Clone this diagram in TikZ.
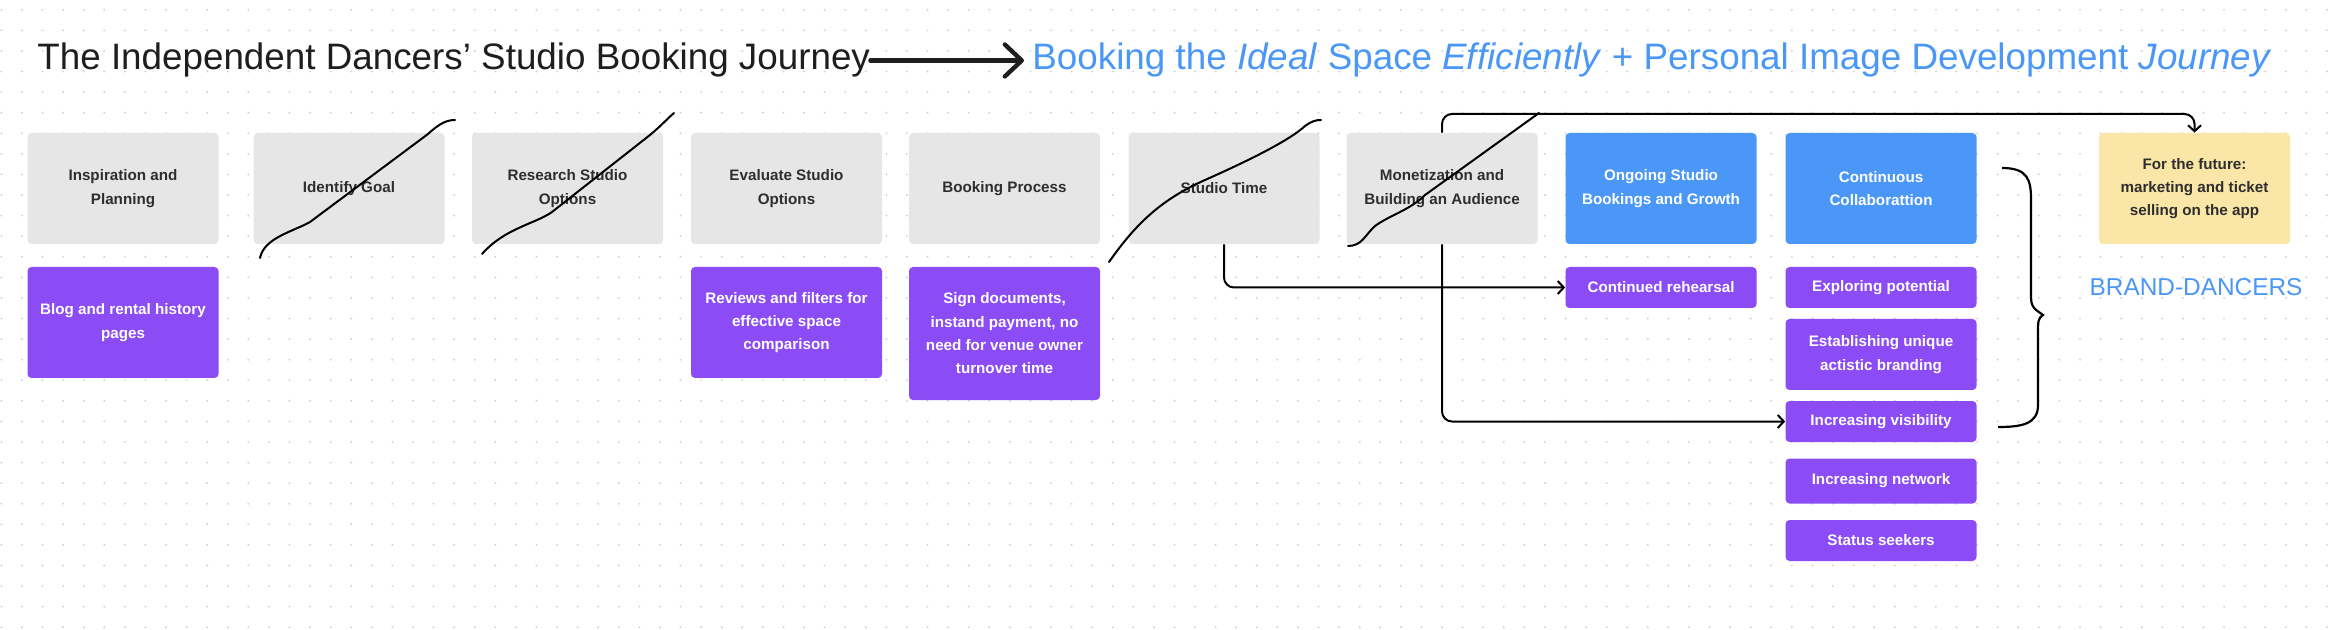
\documentclass[tikz,border=0pt]{standalone}
\usepackage{fontspec}
\setmainfont{Liberation Sans}
\usetikzlibrary{arrows.meta}

\definecolor{dotgray}{HTML}{D4D4D4}
\definecolor{inkblack}{HTML}{1E1E1E}
\definecolor{stagegray}{HTML}{E6E6E6}
\definecolor{stagetext}{HTML}{2E2E2E}
\definecolor{growthblue}{HTML}{4A97F7}
\definecolor{detailpurple}{HTML}{8B4CF6}
\definecolor{futureyellow}{HTML}{FAE7A8}

\tikzset{
  card/.style={rounded corners=2pt, inner sep=0pt, align=center, minimum width=95.5pt,
    font=\bfseries\fontsize{7.6}{11.65}\selectfont},
  stage/.style={card, fill=stagegray, text=stagetext, minimum height=55.5pt},
  growth/.style={card, fill=growthblue, text=white, minimum height=55.5pt},
  detail/.style={card, fill=detailpurple, text=white},
  future/.style={card, fill=futureyellow, text=stagetext, minimum height=55.5pt},
  headline/.style={anchor=base west, inner sep=0pt, font=\fontsize{18.4}{22}\selectfont},
  link/.style={line width=1pt, rounded corners=5pt, -{Straight Barb[length=3pt,width=6.5pt]}},
  scribble/.style={line width=1pt, line cap=round},
}

\begin{document}
\begin{tikzpicture}[x=0.5pt,y=-0.5pt]
    \fill[white] (0,0) rectangle (2338,630);
    \useasboundingbox (0,0) rectangle (2338,630);
    % dotted canvas
    \foreach \i in {0,...,113}
      \foreach \j in {0,...,30}
        \fill[dotgray] (1.4+20.58*\i,9.8+20.58*\j) circle[radius=0.55pt];

    % headline
    \node[headline, text=inkblack] (title) at (37,70) {The Independent Dancers’ Studio Booking Journey};
    \node[headline, text=growthblue] (aim) at (1032,70) {Booking the \textit{Ideal} Space \textit{Efficiently} + Personal Image Development \textit{Journey}};
    \draw[inkblack, line width=2.2pt, line cap=round, -{Straight Barb[length=8.5pt,width=16pt,round]}, shorten >=4pt] (title.east) -- (aim.west);

    % journey stages
    \foreach \n / \x / \t in {insp/123/{Inspiration and\\Planning}, goal/349/{Identify Goal},
        research/567.5/{Research Studio\\Options}, evaluate/786.5/{Evaluate Studio\\Options},
        booking/1004.5/{Booking Process}, studio/1224/{Studio Time},
        money/1442/{Monetization and\\Building an Audience}}
      \node[stage] (\n) at (\x,188.5) {\t};
    \node[growth] (ongoing) at (1661,188.5) {Ongoing Studio\\Bookings and Growth};
    \node[growth] (collab) at (1881,188.5) {Continuous\\Collaborattion};
    \node[future] (app) at (2194.5,188.5) {For the future:\\marketing and ticket\\selling on the app};

    % details
    \node[detail, minimum height=55.5pt] (blog) at (123,322.5) {Blog and rental history\\pages};
    \node[detail, minimum height=55.5pt] (reviews) at (786.5,322.5) {Reviews and filters for\\effective space\\comparison};
    \node[detail, minimum height=66.5pt] (sign) at (1004.5,333.5) {Sign documents,\\instand payment, no\\need for venue owner\\turnover time};
    \node[detail, minimum height=20.5pt] (rehearsal) at (1661,287.5) {Continued rehearsal};
    \foreach \n / \y / \h / \t in {explore/287.5/20.5pt/{Exploring potential},
        brand/354.5/35.5pt/{Establishing unique\\actistic branding},
        vis/421.5/20.5pt/{Increasing visibility}, network/481/22.5pt/{Increasing network},
        status/540.5/20.5pt/{Status seekers}}
      \node[detail, minimum height=\h] (\n) at (1881,\y) {\t};
    \node[text=growthblue, font=\fontsize{12.2}{14}\selectfont] (tag) at (2196,287) {BRAND-DANCERS};

    % connectors
    \coordinate (top) at (0,114);
    \draw[link] (studio.south) |- (rehearsal.west);
    \draw[link] (money.south) |- (vis.west);
    \draw[link] (money.north) |- (top -| app.north) -- (app.north);

    % brace
    \draw[line width=1.1pt] (2002,168) .. controls (2028,168) and (2031,180) .. (2031,200) -- (2031,298)
      .. controls (2031,310) and (2040,312) .. (2043,315) .. controls (2038,318) and (2038,322) .. (2038,332)
      -- (2038,405) .. controls (2038,424) and (2022,427) .. (1998,427);

    % scribbles over skipped stages
    \draw[scribble] (260,258) .. controls (264,238) and (292,232) .. (310,222) -- (428,134)
      .. controls (440,123) and (447,120) .. (455,120);
    \draw[scribble] (482,254) .. controls (505,228) and (535,224) .. (552,212) -- (650,135)
      .. controls (662,125) and (668,118) .. (674,113);
    \draw[scribble] (1109,262) .. controls (1135,225) and (1160,200) .. (1205,180)
      .. controls (1250,160) and (1290,140) .. (1305,126) .. controls (1312,121) and (1316,120) .. (1321,120);
    \draw[scribble] (1348,246) .. controls (1362,246) and (1365,235) .. (1375,226)
      .. controls (1390,215) and (1410,210) .. (1425,195) -- (1539,113);
  \end{tikzpicture}
\end{document}
